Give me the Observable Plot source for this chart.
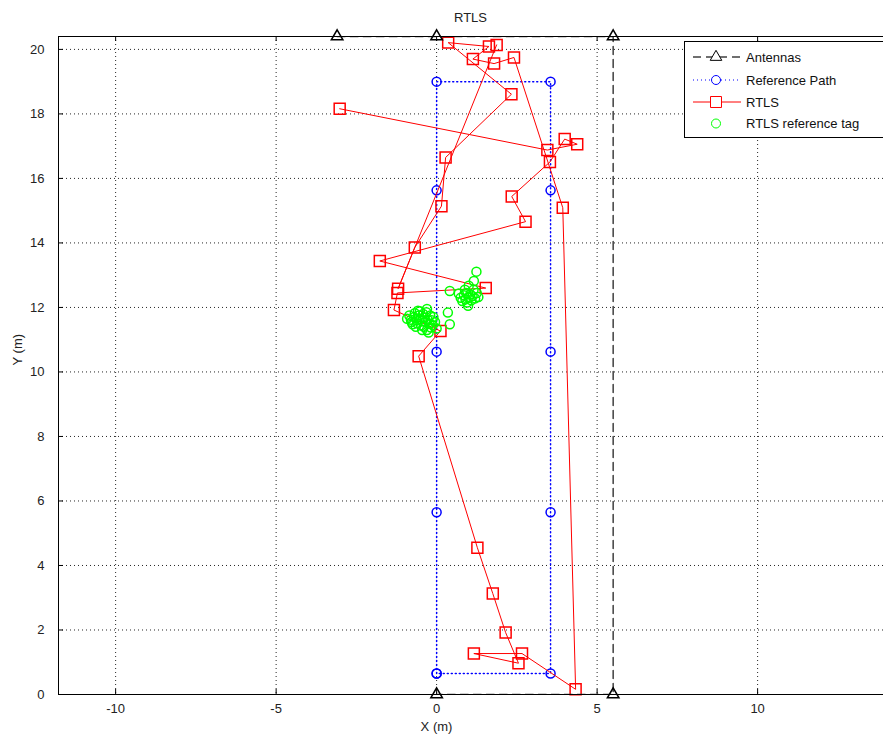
<!DOCTYPE html>
<html><head><meta charset="utf-8">
<script src="https://cdn.jsdelivr.net/npm/d3@7"></script>
<script src="https://cdn.jsdelivr.net/npm/@observablehq/plot@0.6"></script>
<style>html,body{margin:0;padding:0;background:#fff;overflow:hidden;width:883px;height:740px}
#chart svg{max-width:none !important;width:900px;height:740px;display:block}</style>
</head><body><div id="chart"></div>
<script>
// ---- data ----
const xTicks = [-10, -5, 0, 5, 10];
const xTickLabels = ["-10", "-5", "0", "5", "10"];
const yTicks = [0, 2, 4, 6, 8, 10, 12, 14, 16, 18, 20];
const yTickLabels = ["0", "2", "4", "6", "8", "10", "12", "14", "16", "18", "20"];

const antennaX = [-3.1, 0, 5.5, 5.5, 0];
const antennaY = [20.4, 20.4, 20.4, 0, 0];

const refX = [0, 0, 0, 0, 0, 3.55, 3.55, 3.55, 3.55, 3.55, 0];
const refY = [0.65, 5.65, 10.63, 15.63, 19.0, 19.0, 15.63, 10.63, 5.65, 0.65, 0.65];

const rtlsX = [-3.02, 3.45, 4.38, 3.99, 3.53, 2.34, 2.77, -1.77, 1.53, -1.22, -1.33, 0.12, -0.56, 1.27, 1.75, 2.15, 2.55, 1.16, 2.66, 4.33, 3.93, 2.41, 1.79, 1.13, 1.63, 0.36, 2.33, 0.28, 0.15, -0.68, -1.2, 1.87];
const rtlsY = [18.16, 16.88, 17.06, 17.22, 16.51, 15.44, 14.66, 13.44, 12.60, 12.45, 11.92, 11.27, 10.49, 4.55, 3.13, 1.92, 0.97, 1.27, 1.27, 0.16, 15.09, 19.75, 19.56, 19.70, 20.09, 20.21, 18.61, 16.65, 15.14, 13.86, 12.58, 20.14];

const tagX = [-0.85, -0.8, -0.78, -0.7, -0.68, -0.62, -0.6, -0.55, -0.52, -0.5, -0.48, -0.45, -0.42, -0.4, -0.38, -0.35, -0.32, -0.3, -0.28, -0.25, -0.22, -0.2, -0.18, -0.15, -0.12, -0.1, -0.05, 0.0, -0.92, -0.65, -0.75, -0.58, 0.35, 0.41, -0.3, -0.45,
  0.41, 0.69, 0.75, 0.8, 0.85, 0.9, 0.92, 0.95, 1.0, 1.0, 1.05, 1.08, 1.12, 1.16, 1.2, 1.24, 1.25, 1.3, 0.88, 1.15, 0.98];
const tagY = [11.75, 11.62, 11.55, 11.7, 11.82, 11.6, 11.5, 11.75, 11.88, 11.65, 11.45, 11.58, 11.8, 11.4, 11.68, 11.55, 11.85, 11.3, 11.62, 11.22, 11.5, 11.75, 11.38, 11.6, 11.45, 11.7, 11.55, 11.35, 11.65, 11.4, 11.48, 11.9, 11.84, 11.48, 11.95, 11.3,
  12.51, 12.43, 12.3, 12.2, 12.38, 12.25, 12.45, 12.15, 12.3, 12.67, 12.4, 12.22, 12.35, 12.82, 12.28, 13.11, 12.45, 12.32, 12.55, 12.55, 12.05];

const titleText = "RTLS";
const xLabel = "X (m)";
const yLabel = "Y (m)";
const legendLabels = ["Antennas", "Reference Path", "RTLS", "RTLS reference tag"];

// ---- tables ----
const zip = (xs, ys) => xs.map((x, i) => ({x, y: ys[i]}));
const antData = zip(antennaX, antennaY);
const refData = zip(refX, refY);
const rtlsData = zip(rtlsX, rtlsY);
const tagData = zip(tagX, tagY);

const W = 900, H = 740, ML = 58, MR = 10, MT = 36, MB = 46;
const FW = W - ML - MR, FH = H - MT - MB;
const font = "'Liberation Sans', Arial, Helvetica, sans-serif";

const chart = Plot.plot({
  width: W, height: H,
  marginLeft: ML, marginRight: MR, marginTop: MT, marginBottom: MB,
  style: {fontFamily: font, fontSize: "13px", background: "#fff", color: "#000", maxWidth: "none"},
  x: {domain: [-11.78, 14.14]},
  y: {domain: [0, 20.4]},
  marks: [
    Plot.gridX(xTicks, {stroke: "#000", strokeOpacity: 0.85, strokeDasharray: "1,3"}),
    Plot.gridY(yTicks, {stroke: "#000", strokeOpacity: 0.85, strokeDasharray: "1,3"}),
    Plot.line(refData, {x: "x", y: "y", stroke: "#0000ff", strokeDasharray: "1,3"}),
    Plot.dot(refData, {x: "x", y: "y", r: 4.5, stroke: "#0000ff", fill: "none"}),
    Plot.line(rtlsData, {x: "x", y: "y", stroke: "#ff0000", strokeWidth: 1}),
    Plot.dot(rtlsData, {x: "x", y: "y", symbol: "square", r: 6.2, stroke: "#ff0000", fill: "none"}),
    Plot.dot(tagData, {x: "x", y: "y", r: 4.5, stroke: "#00ff00", fill: "none"}),
    Plot.line(antData, {x: "x", y: "y", stroke: "#404040", strokeWidth: 1.5, strokeDasharray: "8,5", clip: true}),
    Plot.frame({stroke: "#000"}),
    Plot.dot(antData, {x: "x", y: "y", symbol: "triangle", r: 4.3, stroke: "#000", fill: "none"}),
    Plot.tickX(xTicks, {x: d => d, insetTop: FH - 5, stroke: "#000"}),
    Plot.tickX(xTicks, {x: d => d, insetBottom: FH - 5, stroke: "#000"}),
    Plot.tickY(yTicks, {y: d => d, insetRight: FW - 5, stroke: "#000"}),
    Plot.axisX(xTicks, {tickSize: 0, tickPadding: 9, label: null, fill: "#222", fontSize: 13, tickFormat: (d, i) => xTickLabels[i]}),
    Plot.axisY(yTicks, {tickSize: 0, tickPadding: 14, label: null, fill: "#222", fontSize: 13, tickFormat: (d, i) => yTickLabels[i]}),
    Plot.text([titleText], {frameAnchor: "top", dy: -24, dx: -4, fontSize: 13, fill: "#222"}),
    Plot.text([xLabel], {frameAnchor: "bottom", dy: 36, dx: -38, fontSize: 13, fill: "#222"}),
    Plot.text([yLabel], {frameAnchor: "left", dx: -41, rotate: -90, fontSize: 13, fill: "#222"})
  ]
});
chart.style.maxWidth = "none";
document.getElementById("chart").appendChild(chart);

// ---- legend (inside the axes, top-right) ----
const svg = d3.select(chart);
const lg = svg.append("g").attr("font-family", font).attr("font-size", 13).attr("text-anchor", "start");
lg.append("rect").attr("x", 684.5).attr("y", 41.5).attr("width", 240).attr("height", 96)
  .attr("fill", "#fff").attr("stroke", "#000");
const rowY = [57, 80, 102, 123.5];
const styles = [
  {stroke: "#404040", dash: "8,5", sym: d3.symbolTriangle, r: 4.3, ms: "#000", line: true, w: 1.5},
  {stroke: "#0000ff", dash: "1,3", sym: d3.symbolCircle, r: 4.5, ms: "#0000ff", line: true, w: 1},
  {stroke: "#ff0000", dash: null, sym: d3.symbolSquare, r: 6.2, ms: "#ff0000", line: true, w: 1},
  {stroke: "#00ff00", dash: null, sym: d3.symbolCircle, r: 4.5, ms: "#00ff00", line: false, w: 1}
];
legendLabels.forEach((lab, i) => {
  const s = styles[i], y = rowY[i];
  if (s.line) {
    const l = lg.append("line").attr("x1", 693).attr("x2", 741).attr("y1", y).attr("y2", y)
      .attr("stroke", s.stroke).attr("stroke-width", s.w);
    if (s.dash) l.attr("stroke-dasharray", s.dash);
  }
  lg.append("path").attr("d", d3.symbol(s.sym, s.r * s.r * Math.PI)())
    .attr("transform", `translate(716,${y})`).attr("fill", "#fff").attr("stroke", s.ms);
  lg.append("text").attr("x", 746).attr("y", y).attr("dy", "0.35em").attr("text-anchor", "start")
    .attr("fill", "#111").text(lab);
});
</script>
</body></html>
